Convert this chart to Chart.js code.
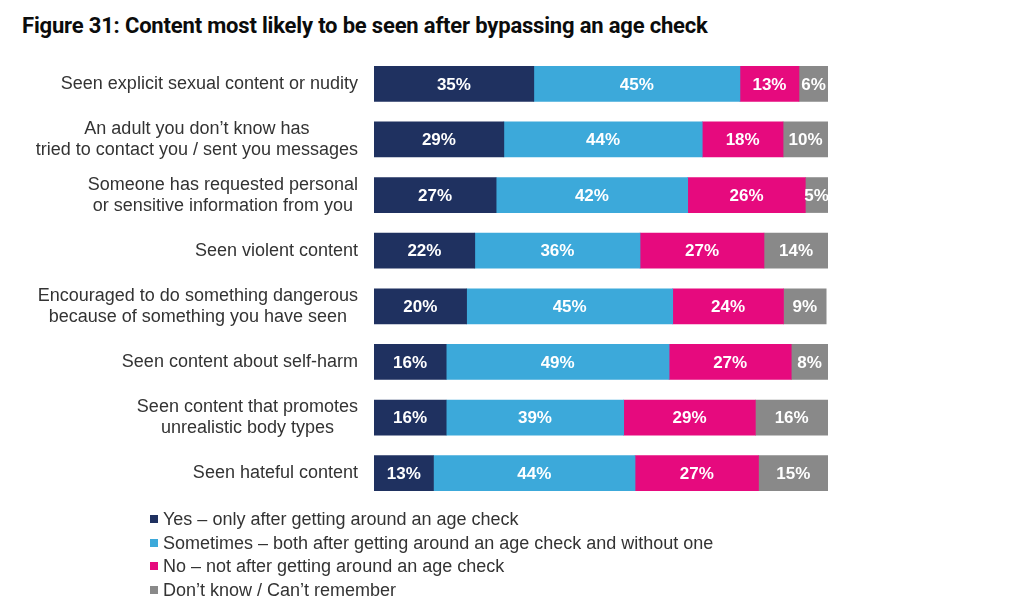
<!DOCTYPE html>
<html lang="en">
<head>
    <meta charset="UTF-8">
    <title>Figure 31</title>
    <script src="https://cdn.jsdelivr.net/npm/chart.js"></script>
    <style>
        body {
            margin: 0;
            background: #ffffff;
            font-family: "Liberation Sans", Arial, sans-serif;
        }

        .wrap {
            position: relative;
            width: 1024px;
            height: 616px;
            overflow: hidden;
        }

        .title {
            position: absolute;
            left: 22px;
            top: 13px;
            font-family: Roboto, sans-serif;
            font-weight: 700;
            font-size: 22px;
            letter-spacing: -0.18px;
            color: #0b0c0c;
            white-space: nowrap;
        }

        canvas {
            position: absolute;
            left: 0;
            top: 0;
        }

        .legend {
            position: absolute;
            left: 150px;
            top: 508px;
            font-size: 18px;
            color: #333333;
            line-height: 23.5px;
        }

        .legend span.box {
            display: inline-block;
            width: 8px;
            height: 8px;
            margin-right: 5px;
            vertical-align: 2px;
        }
    </style>
</head>
<body>
<div class="wrap">
    <div class="title">Figure 31: Content most likely to be seen after bypassing an age check</div>
    <canvas id="chart" width="1024" height="616"></canvas>
    <div class="legend" id="legend"></div>
</div>

<script>
    // categories (multi-line labels)
    const categories = [
        ["Seen explicit sexual content or nudity"],
        ["An adult you don\u2019t know has", "tried to contact you / sent you messages"],
        ["Someone has requested personal", "or sensitive information from you"],
        ["Seen violent content"],
        ["Encouraged to do something dangerous", "because of something you have seen"],
        ["Seen content about self-harm"],
        ["Seen content that promotes", "unrealistic body types"],
        ["Seen hateful content"]
    ];

    // series values (%)
    const yesOnly   = [35.2, 28.6, 26.9, 22.2, 20.4, 15.9, 15.9, 13.1];
    const sometimes = [45.4, 43.7, 42.2, 36.4, 45.4, 49.1, 39.1, 44.4];
    const no        = [13.0, 17.8, 25.9, 27.3, 24.4, 26.9, 29.0, 27.2];
    const dontKnow  = [ 6.4,  9.9,  5.0, 14.1,  9.4,  8.1, 16.0, 15.3];

    const seriesNames = [
        "Yes \u2013 only after getting around an age check",
        "Sometimes \u2013 both after getting around an age check and without one",
        "No \u2013 not after getting around an age check",
        "Don\u2019t know / Can\u2019t remember"
    ];
    const colors = ["#1f3160", "#3ca9da", "#e60a7e", "#898989"];

    const seriesData = [yesOnly, sometimes, no, dontKnow];

    const datasets = seriesData.map((d, i) => ({
        label: seriesNames[i],
        data: d,
        backgroundColor: colors[i],
        borderWidth: 0,
        barThickness: 35
    }));

    // value labels inside the segments
    const valueLabels = {
        id: "valueLabels",
        afterDatasetsDraw(chart) {
            const ctx = chart.ctx;
            ctx.save();
            ctx.font = "bold 17px 'Liberation Sans', Arial, sans-serif";
            ctx.fillStyle = "#ffffff";
            ctx.textAlign = "center";
            ctx.textBaseline = "middle";
            chart.data.datasets.forEach((ds, di) => {
                chart.getDatasetMeta(di).data.forEach((bar, i) => {
                    const x = (bar.x + bar.base) / 2;
                    ctx.fillText(Math.round(ds.data[i]) + "%", x, bar.y + 1);
                });
            });
            ctx.restore();
        }
    };

    // category labels: block right aligned, lines centred
    const categoryLabels = {
        id: "categoryLabels",
        afterDraw(chart) {
            const ctx = chart.ctx;
            const yScale = chart.scales.y;
            const right = chart.chartArea.left - 16;
            ctx.save();
            ctx.font = "18px 'Liberation Sans', Arial, sans-serif";
            ctx.fillStyle = "#333333";
            ctx.textAlign = "center";
            ctx.textBaseline = "middle";
            chart.data.labels.forEach((lines, i) => {
                const y = yScale.getPixelForValue(i);
                const w = Math.max(...lines.map(l => ctx.measureText(l).width));
                const cx = right - w / 2;
                const lh = 21;
                const top = y - (lines.length - 1) * lh / 2;
                lines.forEach((l, j) => ctx.fillText(l, cx, top + j * lh));
            });
            ctx.restore();
        }
    };

    new Chart(document.getElementById("chart"), {
        type: "bar",
        data: { labels: categories, datasets: datasets },
        options: {
            indexAxis: "y",
            responsive: false,
            animation: false,
            layout: { padding: { left: 374, right: 196, top: 56, bottom: 115 } },
            scales: {
                x: { stacked: true, min: 0, max: 100, display: false },
                y: { stacked: true, display: false }
            },
            plugins: {
                legend: { display: false },
                tooltip: { enabled: false }
            }
        },
        plugins: [valueLabels, categoryLabels]
    });

    // legend
    const legendEl = document.getElementById("legend");
    seriesNames.forEach((name, i) => {
        const row = document.createElement("div");
        row.innerHTML = '<span class="box" style="background:' + colors[i] + '"></span>' + name;
        legendEl.appendChild(row);
    });
</script>
</body>
</html>
